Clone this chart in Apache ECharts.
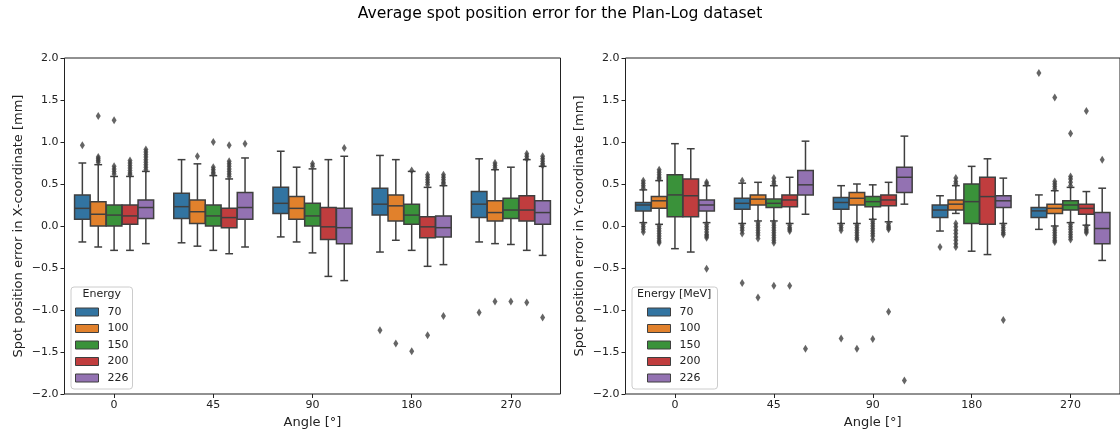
<!DOCTYPE html>
<html><head><meta charset="utf-8">
<script src="https://cdn.jsdelivr.net/npm/echarts@6/dist/echarts.min.js"></script>
<style>html,body{margin:0;padding:0;background:#fff}#c{width:1120px;height:437px}</style>
</head><body><div id="c"></div>
<script>
const categories = ['0', '45', '90', '180', '270'];
const energies = ['70', '100', '150', '200', '226'];
const colors = ['#3274a1', '#e1812c', '#3a923a', '#c03d3e', '#9372b2'];

// X-coordinate panel: per angle [whiskerLow, q1, median, q3, whiskerHigh]
const xStats70  = [[-0.19, 0.08, 0.21, 0.37, 0.75], [-0.20, 0.09, 0.23, 0.39, 0.79], [-0.13, 0.15, 0.27, 0.46, 0.89], [-0.31, 0.13, 0.26, 0.45, 0.84], [-0.19, 0.10, 0.26, 0.41, 0.80]];
const xStats100 = [[-0.25, 0.00, 0.14, 0.29, 0.73], [-0.24, 0.03, 0.17, 0.31, 0.74], [-0.19, 0.08, 0.21, 0.35, 0.70], [-0.17, 0.06, 0.24, 0.37, 0.79], [-0.21, 0.06, 0.16, 0.30, 0.67]];
const xStats150 = [[-0.29, 0.00, 0.13, 0.25, 0.59], [-0.29, 0.00, 0.12, 0.25, 0.60], [-0.32, 0.00, 0.12, 0.27, 0.68], [-0.29, 0.02, 0.13, 0.26, 0.65], [-0.22, 0.09, 0.19, 0.33, 0.70]];
const xStats200 = [[-0.29, 0.02, 0.12, 0.25, 0.59], [-0.33, -0.02, 0.10, 0.21, 0.56], [-0.60, -0.16, -0.01, 0.22, 0.79], [-0.48, -0.14, -0.01, 0.11, 0.46], [-0.29, 0.06, 0.19, 0.36, 0.79]];
const xStats226 = [[-0.21, 0.09, 0.22, 0.31, 0.65], [-0.25, 0.08, 0.22, 0.40, 0.81], [-0.65, -0.21, -0.02, 0.21, 0.83], [-0.46, -0.13, -0.02, 0.12, 0.48], [-0.35, 0.02, 0.16, 0.30, 0.71]];

// X-coordinate panel outliers: [angleIndex, value]
const xOut70  = [[0, 0.96], [3, -1.24], [4, -1.03]];
const xOut100 = [[0, 1.31], [0, 0.82], [0, 0.80], [0, 0.78], [0, 0.76], [1, 0.83], [3, -1.40], [4, 0.75], [4, 0.72], [4, 0.69], [4, -0.90]];
const xOut150 = [[0, 1.26], [0, 0.71], [0, 0.68], [0, 0.65], [0, 0.62], [1, 1.00], [1, 0.70], [1, 0.67], [1, 0.64], [1, 0.62], [2, 0.74], [2, 0.71], [3, 0.66], [3, -1.49], [4, -0.90]];
const xOut200 = [[0, 0.78], [0, 0.75], [0, 0.72], [0, 0.69], [0, 0.66], [0, 0.63], [0, 0.61], [1, 0.96], [1, 0.77], [1, 0.74], [1, 0.71], [1, 0.68], [1, 0.65], [1, 0.62], [1, 0.59], [3, 0.61], [3, 0.58], [3, 0.55], [3, 0.52], [3, 0.49], [3, -1.30], [4, 0.86], [4, 0.83], [4, 0.80], [4, -0.91]];
const xOut226 = [[0, 0.91], [0, 0.88], [0, 0.85], [0, 0.82], [0, 0.79], [0, 0.76], [0, 0.73], [0, 0.70], [0, 0.67], [1, 0.98], [2, 0.93], [3, 0.61], [3, 0.58], [3, 0.55], [3, 0.52], [3, 0.50], [3, -1.07], [4, 0.83], [4, 0.80], [4, 0.77], [4, 0.74], [4, 0.72], [4, -1.09]];

// Y-coordinate panel: per angle [whiskerLow, q1, median, q3, whiskerHigh]
const yStats70  = [[0.04, 0.18, 0.25, 0.28, 0.43], [0.03, 0.20, 0.27, 0.33, 0.51], [0.03, 0.20, 0.28, 0.34, 0.48], [-0.06, 0.10, 0.19, 0.25, 0.36], [-0.04, 0.10, 0.18, 0.22, 0.37]];
const yStats100 = [[0.02, 0.21, 0.30, 0.35, 0.54], [0.06, 0.25, 0.32, 0.37, 0.52], [0.03, 0.25, 0.33, 0.40, 0.50], [0.15, 0.19, 0.26, 0.31, 0.48], [0.00, 0.15, 0.21, 0.26, 0.42]];
const yStats150 = [[-0.27, 0.11, 0.37, 0.61, 0.98], [0.06, 0.22, 0.27, 0.32, 0.48], [0.08, 0.23, 0.29, 0.35, 0.49], [-0.30, 0.03, 0.29, 0.50, 0.71], [0.04, 0.19, 0.25, 0.30, 0.46]];
const yStats200 = [[-0.31, 0.11, 0.36, 0.56, 0.92], [0.03, 0.23, 0.31, 0.37, 0.58], [0.05, 0.24, 0.31, 0.37, 0.52], [-0.34, 0.02, 0.35, 0.58, 0.80], [0.01, 0.14, 0.21, 0.26, 0.41]];
const yStats226 = [[0.04, 0.18, 0.25, 0.31, 0.48], [0.14, 0.37, 0.49, 0.66, 1.01], [0.26, 0.40, 0.58, 0.70, 1.07], [0.03, 0.22, 0.30, 0.36, 0.57], [-0.41, -0.21, -0.03, 0.16, 0.45]];

// Y-coordinate panel outliers: [angleIndex, value]
const yOut70  = [[0, 0.54], [0, 0.51], [0, 0.48], [0, 0.45], [0, 0.02], [0, -0.01], [0, -0.04], [0, -0.07], [1, 0.54], [1, 0.01], [1, -0.02], [1, -0.05], [1, -0.09], [1, -0.68], [2, 0.01], [2, -0.02], [2, -0.05], [2, -1.34], [3, -0.25], [4, 1.82]];
const yOut100 = [[0, 0.67], [0, 0.64], [0, 0.61], [0, 0.58], [0, 0.56], [0, 0.00], [0, -0.03], [0, -0.06], [0, -0.09], [0, -0.12], [0, -0.15], [0, -0.18], [0, -0.20], [1, 0.04], [1, 0.01], [1, -0.02], [1, -0.05], [1, -0.08], [1, -0.11], [1, -0.15], [1, -0.85], [2, 0.01], [2, -0.02], [2, -0.05], [2, -0.08], [2, -0.11], [2, -0.14], [2, -0.16], [2, -1.46], [3, 0.57], [3, 0.53], [3, 0.50], [3, 0.03], [3, -0.01], [3, -0.05], [3, -0.09], [3, -0.13], [3, -0.17], [3, -0.21], [3, -0.25], [4, 0.53], [4, 0.50], [4, 0.47], [4, 0.44], [4, -0.02], [4, -0.05], [4, -0.08], [4, -0.11], [4, -0.14], [4, -0.17], [4, -0.19], [4, 1.53]];
const yOut150 = [[1, 0.57], [1, 0.53], [1, 0.50], [1, 0.04], [1, 0.01], [1, -0.02], [1, -0.05], [1, -0.08], [1, -0.11], [1, -0.14], [1, -0.17], [1, -0.20], [1, -0.71], [2, 0.06], [2, 0.03], [2, 0.00], [2, -0.03], [2, -0.06], [2, -0.09], [2, -0.12], [2, -0.16], [2, -1.345], [4, 0.59], [4, 0.56], [4, 0.52], [4, 0.48], [4, 0.02], [4, -0.01], [4, -0.04], [4, -0.07], [4, -0.10], [4, -0.13], [4, -0.16], [4, 1.10]];
const yOut200 = [[1, 0.01], [1, -0.02], [1, -0.04], [1, -0.06], [1, -0.71], [2, 0.03], [2, 0.00], [2, -0.02], [2, -0.04], [2, -1.02], [4, -0.01], [4, -0.04], [4, -0.06], [4, -0.08], [4, 1.37]];
const yOut226 = [[0, 0.52], [0, 0.50], [0, 0.02], [0, -0.01], [0, -0.04], [0, -0.07], [0, -0.10], [0, -0.12], [0, -0.14], [0, -0.51], [1, -1.46], [2, -1.84], [3, 0.01], [3, -0.02], [3, -0.05], [3, -0.08], [3, -0.10], [3, -1.12], [4, 0.79]];

const yTicks = [-2, -1.5, -1, -0.5, 0, 0.5, 1, 1.5, 2];

const panels = [
  { stats: [xStats70, xStats100, xStats150, xStats200, xStats226], outs: [xOut70, xOut100, xOut150, xOut200, xOut226] },
  { stats: [yStats70, yStats100, yStats150, yStats200, yStats226], outs: [yOut70, yOut100, yOut150, yOut200, yOut226] }
];

const FONT = 'DejaVu Sans';
const LINE = '#3f3f3f';
const HUE_STEP = 0.16;
const BOX_W = 0.157;
const hueOffset = h => (h - 2) * HUE_STEP;

function renderBox(color) {
  return function (params, api) {
    const x = api.value(0);
    const lo = api.coord([x, api.value(1)]);
    const q1 = api.coord([x, api.value(2)]);
    const md = api.coord([x, api.value(3)]);
    const q3 = api.coord([x, api.value(4)]);
    const hi = api.coord([x, api.value(5)]);
    const w = api.size([BOX_W, 0])[0];
    const cx = lo[0];
    const cw = w / 4;
    const st = { stroke: LINE, lineWidth: 1.5 };
    return {
      type: 'group',
      children: [
        { type: 'line', shape: { x1: cx, y1: q1[1], x2: cx, y2: lo[1] }, style: st },
        { type: 'line', shape: { x1: cx, y1: q3[1], x2: cx, y2: hi[1] }, style: st },
        { type: 'line', shape: { x1: cx - cw, y1: lo[1], x2: cx + cw, y2: lo[1] }, style: st },
        { type: 'line', shape: { x1: cx - cw, y1: hi[1], x2: cx + cw, y2: hi[1] }, style: st },
        { type: 'rect', shape: { x: cx - w / 2, y: q3[1], width: w, height: q1[1] - q3[1] }, style: { fill: color, stroke: LINE, lineWidth: 1.5 } },
        { type: 'line', shape: { x1: cx - w / 2, y1: md[1], x2: cx + w / 2, y2: md[1] }, style: st }
      ]
    };
  };
}

const series = [];
panels.forEach((p, pi) => {
  p.stats.forEach((arr, h) => {
    series.push({
      type: 'custom',
      name: energies[h],
      xAxisIndex: pi * 2 + 1,
      yAxisIndex: pi,
      itemStyle: { color: colors[h] },
      renderItem: renderBox(colors[h]),
      encode: { x: 0, y: [1, 2, 3, 4, 5] },
      data: arr.map((s, i) => [i + hueOffset(h)].concat(s)),
      z: 2
    });
    series.push({
      type: 'scatter',
      name: 'outliers',
      xAxisIndex: pi * 2 + 1,
      yAxisIndex: pi,
      symbol: 'diamond',
      symbolSize: [5, 8],
      itemStyle: { color: LINE },
      data: p.outs[h].map(o => [o[0] + hueOffset(h), o[1]]),
      z: 3
    });
  });
});

const grids = [
  { left: 64.5, top: 58, width: 496, height: 336 },
  { left: 625.5, top: 58, width: 496, height: 336 }
];
const yNames = ['Spot position error in X-coordinate [mm]', 'Spot position error in Y-coordinate [mm]'];

const xAxes = [], yAxes = [];
grids.forEach((g, gi) => {
  xAxes.push({
    type: 'category', gridIndex: gi, data: categories, boundaryGap: true, position: 'bottom',
    axisLine: { show: false, onZero: false },
    axisTick: { show: true, alignWithLabel: true, length: 4, lineStyle: { color: '#222', width: 1 } },
    axisLabel: { fontFamily: FONT, fontSize: 11, color: '#222', margin: 6 },
    splitLine: { show: false },
    name: 'Angle [°]', nameLocation: 'middle', nameGap: 22,
    nameTextStyle: { fontFamily: FONT, fontSize: 13, color: '#222' }
  });
  xAxes.push({ type: 'value', gridIndex: gi, min: -0.5, max: 4.5, show: false, axisLine: { onZero: false } });
  yAxes.push({
    type: 'value', gridIndex: gi, min: yTicks[0], max: yTicks[yTicks.length - 1], interval: 0.5, position: 'left',
    axisLine: { show: false, onZero: false },
    axisTick: { show: true, length: 4, lineStyle: { color: '#222', width: 1 } },
    axisLabel: { fontFamily: FONT, fontSize: 11, color: '#222', margin: 6,
      formatter: v => (v < 0 ? '\u2212' : '') + Math.abs(v).toFixed(1) },
    splitLine: { show: false },
    name: yNames[gi], nameLocation: 'middle', nameGap: 39, nameRotate: 90,
    nameTextStyle: { fontFamily: FONT, fontSize: 13, color: '#222' }
  });
});

function legendCfg(left, pad) {
  return {
    data: energies, orient: 'vertical', left: left, top: 287,
    icon: 'rect', itemWidth: 23, itemHeight: 8, itemGap: 2.5,
    padding: pad, selectedMode: false,
    backgroundColor: 'rgba(255,255,255,0.85)', borderColor: '#cccccc', borderWidth: 1, borderRadius: 3,
    itemStyle: { borderColor: LINE, borderWidth: 1 },
    textStyle: { fontFamily: FONT, fontSize: 11, lineHeight: 14, color: '#222', padding: [0, 0, 0, 4] },
    z: 10
  };
}

const option = {
  animation: false,
  backgroundColor: '#fff',
  title: {
    text: 'Average spot position error for the Plan-Log dataset', left: 'center', top: 1,
    textStyle: { fontFamily: FONT, fontSize: 15.6, fontWeight: 'normal', color: '#000' }
  },
  grid: grids.map(g => Object.assign({ show: true, borderColor: '#222', borderWidth: 1, backgroundColor: 'transparent' }, g)),
  xAxis: xAxes,
  yAxis: yAxes,
  legend: [legendCfg(71, [18, 4, 4, 4]), legendCfg(632, [18, 17, 4, 15])],
  graphic: [
    { type: 'text', left: 101.5 - 19, top: 289, z: 100, style: { text: 'Energy', fontFamily: FONT, fontSize: 11, fill: '#222' } },
    { type: 'text', left: 637, top: 289, z: 100, style: { text: 'Energy [MeV]', fontFamily: FONT, fontSize: 11, fill: '#222' } }
  ],
  series: series
};

const chart = echarts.init(document.getElementById('c'), null, { renderer: 'canvas' });
chart.setOption(option);
</script>
</body></html>
